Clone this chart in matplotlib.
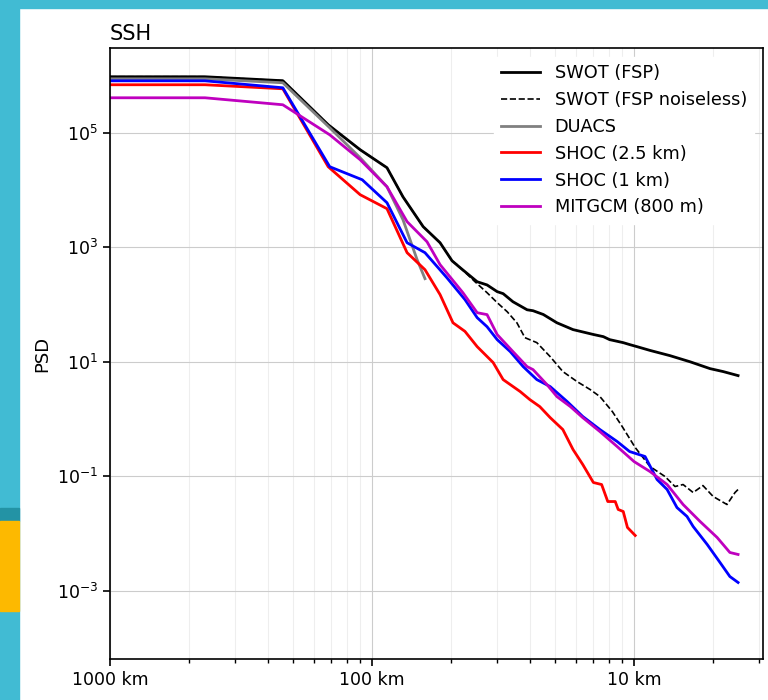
import numpy as np
import matplotlib
matplotlib.use('Agg')
import matplotlib.pyplot as plt
from matplotlib.patches import Rectangle
from matplotlib.ticker import FuncFormatter, LogLocator, NullLocator

# wavelengths (km) and PSD
swot_L = [1000, 434, 219, 147, 111, 87.7, 76.2, 63.8, 55.0, 49.5, 46.1, 39.7, 36.4, 33.3,
          31.6, 29.0, 25.6, 24.3, 22.2, 19.7, 17.1, 14.3, 13.1, 12.4, 11.0, 10.4, 9.75,
          8.69, 7.29, 6.11, 5.13, 4.57, 4.01]
swot_psd = [9.5e5, 9.5e5, 8.1e5, 1.38e5, 5.05e4, 2.45e4, 7.6e3, 2.29e3, 1.2e3, 5.8e2, 4.4e2,
            2.5e2, 2.2e2, 1.68e2, 1.55e2, 1.12e2, 81, 78, 67, 48, 36.5, 30, 27.5, 24.4,
            21.6, 20, 18.4, 15.8, 12.8, 10, 7.6, 6.75, 5.74]

nl_L = [1000, 434, 219, 147, 111, 87.7, 76.2, 63.8, 55.0, 49.5, 47.4, 40.5, 36.4, 33.3,
        30.5, 28.0, 26.1, 23.5, 20.9, 18.7, 16.5, 14.7, 13.5, 12.1, 11.1, 9.9, 8.69, 7.62,
        6.98, 6.50, 5.95, 5.46, 4.99, 4.42, 4.12, 4.01]
nl_psd = [9.5e5, 9.5e5, 8.1e5, 1.38e5, 5.05e4, 2.45e4, 7.6e3, 2.29e3, 1.2e3, 5.8e2, 4.97e2,
          2.51e2, 1.61e2, 1.08e2, 75, 48, 26.4, 21.6, 12.3, 6.75, 4.51, 3.27, 2.47, 1.35,
          0.74, 0.318, 0.148, 0.0993, 0.0664, 0.0719, 0.0521, 0.069, 0.0444, 0.0322,
          0.0521, 0.0589]

duacs_L = [1000, 434, 219, 145, 111, 87.7, 76.2, 67.3, 62.8]
duacs_psd = [8.75e5, 8.75e5, 7.46e5, 1.22e5, 3.66e4, 1.14e4, 3.03e3, 6.08e2, 2.83e2]

shoc25_L = [1000, 434, 219, 147, 111, 87.7, 73.5, 62.8, 55.0, 49.1, 44.2, 39.7, 34.5, 31.6,
            27.2, 25.0, 22.9, 20.9, 18.7, 17.1, 15.7, 14.3, 13.3, 12.6, 11.8, 11.5, 11.0,
            10.6, 9.9]
shoc25_psd = [6.89e5, 6.89e5, 5.86e5, 2.55e4, 8.28e3, 4.72e3, 8.05e2, 4.06e2, 1.49e2, 48,
              34, 18.4, 9.7, 4.89, 3.02, 2.19, 1.65, 1.06, 0.656, 0.294, 0.161, 0.078,
              0.0719, 0.0363, 0.0363, 0.0264, 0.0243, 0.0128, 0.00927]

shoc1_L = [1000, 434, 219, 145, 109, 87.7, 73.5, 62.8, 51.8, 44.2, 39.7, 36.4, 33.3, 29.7,
           26.5, 23.5, 20.9, 18.0, 15.7, 13.5, 11.6, 10.4, 9.08, 8.17, 7.48, 6.86, 6.28,
           5.95, 5.26, 4.70, 4.31, 4.01]
shoc1_psd = [8.07e5, 8.07e5, 6.1e5, 2.55e4, 1.51e4, 6.0e3, 1.2e3, 8.05e2, 2.94e2, 1.22e2,
             59, 41, 24.4, 15.1, 8.24, 4.89, 3.69, 2.02, 1.11, 0.656, 0.405, 0.271, 0.222,
             0.0879, 0.0589, 0.0285, 0.0199, 0.0133, 0.00646, 0.00313, 0.00178, 0.0014]

mit_L = [1000, 434, 219, 145, 111, 87.7, 73.5, 61.7, 55.0, 45.0, 39.7, 36.4, 33.3, 29.0,
         25.6, 24.3, 21.5, 19.7, 17.5, 15.7, 13.5, 11.6, 10.0, 8.69, 7.48, 6.50, 5.60,
         4.82, 4.31, 4.01]
mit_psd = [4.08e5, 4.08e5, 3.08e5, 9.2e4, 3.38e4, 1.14e4, 2.8e3, 1.25e3, 4.97e2, 1.61e2,
           72, 66.7, 29.9, 15.1, 8.24, 7.31, 4.0, 2.47, 1.65, 1.06, 0.605, 0.331, 0.181,
           0.121, 0.0719, 0.0322, 0.0163, 0.00855, 0.00468, 0.00432]

fig = plt.figure(figsize=(7.68, 7.0), dpi=100)

# page frame around the plot
fig.patches.append(Rectangle((0, 692 / 700), 1, 8 / 700, transform=fig.transFigure,
                             color='#41bbd3', zorder=0))
fig.patches.append(Rectangle((0, 0), 19 / 768, 1, transform=fig.transFigure,
                             color='#41bbd3', zorder=0))
fig.patches.append(Rectangle((0, 1 - 521 / 700), 19 / 768, 13 / 700, transform=fig.transFigure,
                             color='#2393a5', zorder=1))
fig.patches.append(Rectangle((0, 1 - 611 / 700), 19 / 768, 90 / 700, transform=fig.transFigure,
                             color='#fdb900', zorder=1))

ax = fig.add_axes([110 / 768, 1 - 659 / 700, 653 / 768, 611 / 700])

k = lambda L: 1.0 / np.array(L)
ax.loglog(k(swot_L), swot_psd, color='k', lw=2, label='SWOT (FSP)')
ax.loglog(k(nl_L), nl_psd, color='k', lw=1.2, ls='--', label='SWOT (FSP noiseless)')
ax.loglog(k(duacs_L), duacs_psd, color='gray', lw=2, label='DUACS')
ax.loglog(k(shoc25_L), shoc25_psd, color='red', lw=2, label='SHOC (2.5 km)')
ax.loglog(k(shoc1_L), shoc1_psd, color='blue', lw=2, label='SHOC (1 km)')
ax.loglog(k(mit_L), mit_psd, color='m', lw=2, label='MITGCM (800 m)')

ax.set_xlim(1e-3, 10 ** (-0.508))
ax.set_ylim(10 ** -4.19, 10 ** 6.48)
ax.set_yticks([1e-3, 1e-1, 1e1, 1e3, 1e5])
ax.yaxis.set_minor_locator(NullLocator())
ax.xaxis.set_major_locator(LogLocator(base=10))
ax.xaxis.set_minor_locator(LogLocator(base=10, subs=np.arange(2, 10)))
ax.xaxis.set_major_formatter(FuncFormatter(lambda v, p: '%g km' % round(1 / v)))

ax.grid(True, which='major', color='#cccccc', lw=0.8)
ax.grid(True, which='minor', axis='x', color='#eeeeee', lw=0.8)
ax.tick_params(labelsize=12.5, width=1.2, length=5)
ax.tick_params(which='minor', width=1, length=3)
for s in ax.spines.values():
    s.set_linewidth(1.2)

ax.set_ylabel('PSD', fontsize=13)
ax.set_title('SSH', loc='left', fontsize=15)

leg = ax.legend(loc='upper right', fontsize=12.8, framealpha=1, fancybox=False,
                borderaxespad=0.5, handlelength=2.2)
leg.get_frame().set_edgecolor('white')

fig.savefig('out.png', dpi=100)
